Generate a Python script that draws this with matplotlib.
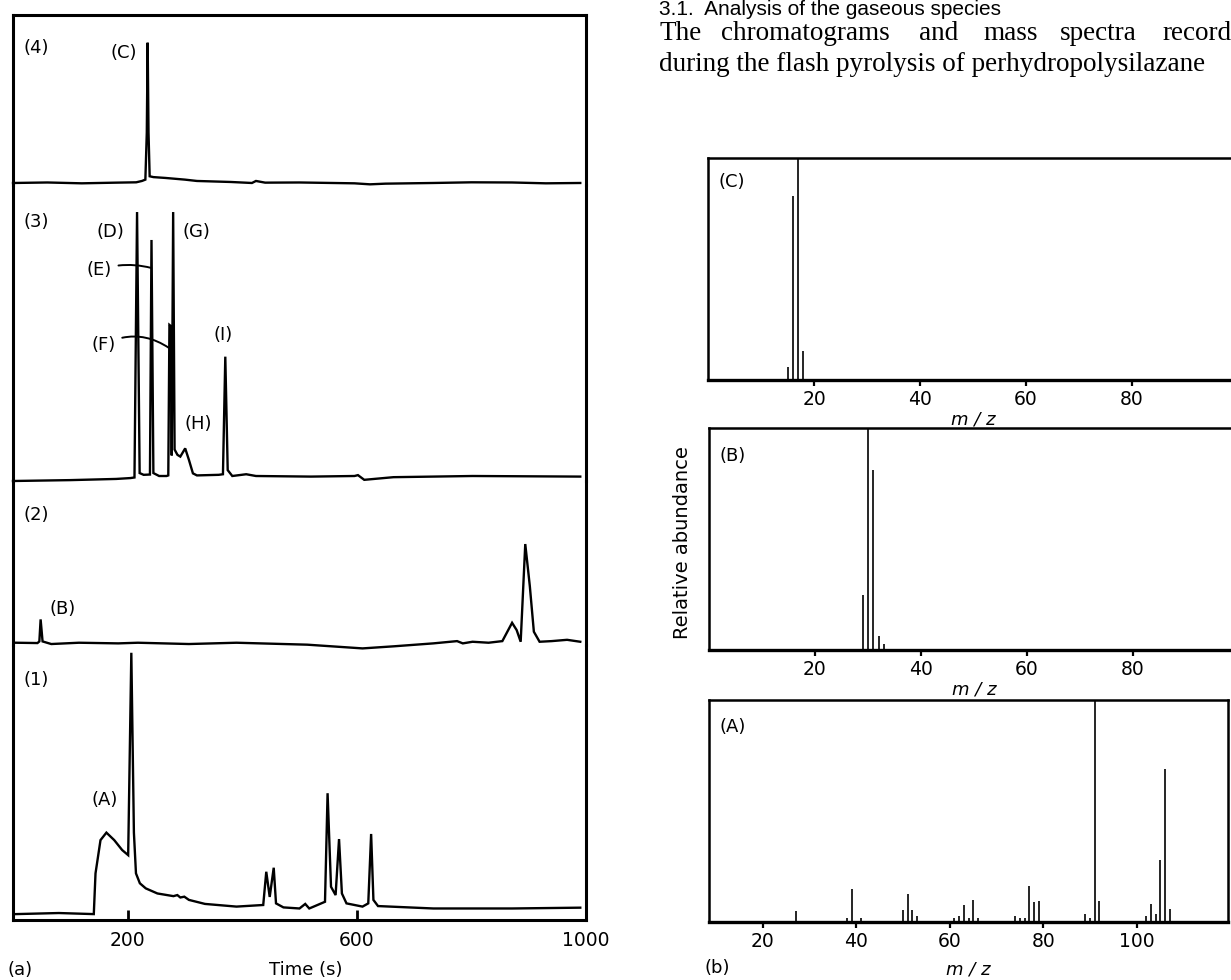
import matplotlib

matplotlib.use("Agg")
import matplotlib.pyplot as plt

W, H = 1231, 980

# ---- (a) chromatograms: time (s) and signal (fraction of panel height)
trace4_t = [0, 60, 120, 180, 215, 225, 231, 233.5, 235, 236.5, 238.5, 245, 266, 300, 321,
            380, 417, 424, 440, 500, 596, 623, 650, 733, 800, 871, 930, 990]
trace4_v = [0, 0.003, -0.002, 0.002, 0.004, 0.012, 0.02, 0.3, 0.835, 0.3, 0.04, 0.035, 0.03,
            0.02, 0.012, 0.006, 0.0, 0.012, 0.002, 0.003, -0.002, -0.008, -0.004, 0.0, 0.004,
            0.003, -0.002, 0.0]

trace3_t = [0, 100, 180, 205, 212, 216.5, 221, 228, 239, 241.7, 245, 255, 268, 271, 273,
            275.5, 277, 279.5, 282, 287, 292, 300.5, 307, 314, 321, 359, 366.4, 370.5, 374.7,
            382.7, 407, 424, 520, 596, 602, 613, 664, 802, 990]
trace3_v = [-0.007, -0.004, 0, 0.003, 0.005, 0.908, 0.02, 0.014, 0.015, 0.813, 0.02, 0.01,
            0.01, 0.012, 0.524, 0.52, 0.08, 0.908, 0.1, 0.082, 0.076, 0.104, 0.065, 0.019,
            0.012, 0.014, 0.016, 0.416, 0.03, 0.01, 0.016, 0.01, 0.008, 0.01, 0.013, -0.003,
            0.006, 0.01, 0.008]

trace2_t = [5, 42.7, 46, 48.2, 51.6, 66.8, 115, 183.6, 218, 307, 390, 513.5, 610, 665, 733.5,
            775, 785, 802, 830, 854, 871, 879, 886, 894, 902, 909, 919, 940, 967, 990]
trace2_v = [0.002, 0, 0.01, 0.146, 0.01, -0.006, 0.002, -0.002, 0.002, -0.006, 0.002, -0.01,
            -0.033, -0.02, -0.002, 0.012, -0.002, 0.008, 0.002, 0.012, 0.125, 0.08, 0.008,
            0.611, 0.35, 0.07, 0.008, 0.012, 0.02, 0.008]

trace1_t = [5, 80, 141, 144, 152.7, 163, 176.7, 190.5, 201, 206.5, 211, 214.6, 221.4, 231.7,
            252, 280, 286.8, 292, 299, 307, 335, 390, 436.7, 442, 448, 455, 459, 472, 500,
            510, 517, 527, 544.5, 549, 555, 563, 569, 574, 582, 610, 620, 625, 629, 637,
            733.5, 871, 990]
trace1_v = [-0.004, 0, -0.004, 0.148, 0.272, 0.3, 0.272, 0.235, 0.216, 0.971, 0.3, 0.148,
            0.111, 0.092, 0.073, 0.063, 0.067, 0.058, 0.061, 0.049, 0.034, 0.024, 0.03, 0.154,
            0.06, 0.169, 0.036, 0.021, 0.017, 0.034, 0.017, 0.026, 0.042, 0.447, 0.098, 0.067,
            0.276, 0.073, 0.036, 0.024, 0.036, 0.295, 0.049, 0.026, 0.017, 0.017, 0.02]

time_ticks = [200, 600, 1000]

# ---- (b) mass spectra: m/z and relative abundance
msC_mz = [15, 16, 17, 18]
msC_ab = [0.06, 0.83, 1.0, 0.13]

msB_mz = [29, 30, 31, 32, 33]
msB_ab = [0.25, 1.0, 0.81, 0.063, 0.026]

msA_mz = [27, 38, 39, 41, 50, 51, 52, 53, 61, 62, 63, 64, 65, 66, 74, 75, 76, 77, 78, 79,
          89, 90, 91, 92, 102, 103, 104, 105, 106, 107]
msA_ab = [0.05, 0.02, 0.15, 0.018, 0.053, 0.125, 0.053, 0.027, 0.017, 0.027, 0.075, 0.02,
          0.1, 0.017, 0.026, 0.018, 0.018, 0.16, 0.09, 0.095, 0.038, 0.02, 1.0, 0.093, 0.026,
          0.083, 0.035, 0.28, 0.69, 0.058]

mz_ticks_CB = [20, 40, 60, 80]
mz_ticks_A = [20, 40, 60, 80, 100]

FS = 13
plt.rcParams["font.family"] = "DejaVu Sans"

fig = plt.figure(figsize=(W / 100, H / 100), dpi=100)


def px_axes(x0, y0, x1, y1):
    return fig.add_axes([x0 / W, 1 - y1 / H, (x1 - x0) / W, (y1 - y0) / H])


def px_text(x, y, s, **kw):
    fig.text(x / W, 1 - y / H, s, **kw)


# ---- left block: four stacked chromatograms sharing one frame
chrom = [
    (trace4_t, trace4_v, 15, 185, -0.012, "(4)", 0.806),
    (trace3_t, trace3_v, 185, 481, -0.007, "(3)", 0.875),
    (trace2_t, trace2_v, 481, 645, -0.012, "(2)", 0.793),
    (trace1_t, trace1_v, 645, 920, -0.026, "(1)", 0.873),
]
axs = []
for i, (t, v, y0, y1, ymin, lab, ly) in enumerate(chrom):
    ax = px_axes(13, y0, 586, y1)
    ax.plot(t, v, color="black", lw=1.7, clip_on=False, solid_joinstyle="miter")
    ax.set_xlim(0, 1000)
    ax.set_ylim(ymin, 1.0)
    ax.set_yticks([])
    ax.patch.set_alpha(0)
    for side in ("left", "right", "top", "bottom"):
        ax.spines[side].set_linewidth(2.2)
    ax.spines["top"].set_visible(i == 0)
    ax.spines["bottom"].set_visible(i == len(chrom) - 1)
    if i < len(chrom) - 1:
        ax.set_xticks([])
    ax.text(0.04, ly, lab, transform=ax.transAxes, fontsize=FS, ha="center", va="center")
    axs.append(ax)

ax4, ax3, ax2, ax1 = axs
ax1.set_xticks(time_ticks)
ax1.set_xticklabels([str(v) for v in time_ticks])
ax1.tick_params(axis="x", direction="in", length=7, width=2, labelsize=FS + 0.5, pad=8)

ax4.text(193, 0.774, "(C)", fontsize=FS, ha="center", va="center")
ax3.text(170, 0.84, "(D)", fontsize=FS, ha="center", va="center")
ax3.text(321, 0.84, "(G)", fontsize=FS, ha="center", va="center")
ax3.text(367, 0.49, "(I)", fontsize=FS, ha="center", va="center")
ax3.text(323.5, 0.187, "(H)", fontsize=FS, ha="center", va="center")
ax3.annotate("(E)", xy=(241, 0.718), xytext=(150, 0.711), fontsize=FS, ha="center",
             va="center", arrowprops=dict(arrowstyle="-", lw=1.4, shrinkA=3, shrinkB=0,
                                          connectionstyle="arc3,rad=-0.15"))
ax3.annotate("(F)", xy=(272, 0.446), xytext=(157.6, 0.456), fontsize=FS, ha="center",
             va="center", arrowprops=dict(arrowstyle="-", lw=1.4, shrinkA=3, shrinkB=0,
                                          connectionstyle="arc3,rad=-0.3"))
ax2.text(87, 0.21, "(B)", fontsize=FS, ha="center", va="center")
ax1.text(160, 0.42, "(A)", fontsize=FS, ha="center", va="center")

px_text(20, 970, "(a)", fontsize=FS, ha="center", va="center")
px_text(306, 970, "Time (s)", fontsize=FS, ha="center", va="center")

# ---- right block: mass spectra
spectra = [
    (msC_mz, msC_ab, 708, 158, 1238, 380, (0, 100), mz_ticks_CB, "(C)", 0.89, 1),
    (msB_mz, msB_ab, 709, 428, 1239, 650, (0, 100), mz_ticks_CB, "(B)", 0.875, 1),
    (msA_mz, msA_ab, 709, 700, 1228, 922, (8.5, 119.5), mz_ticks_A, "(A)", 0.88, 7),
]
for mz, ab, x0, y0, x1, y1, xl, ticks, lab, ly, lpad in spectra:
    ax = px_axes(x0, y0, x1, y1)
    ax.vlines(mz, 0, ab, color="black", lw=1.2)
    ax.set_xlim(*xl)
    ax.set_ylim(0, 1.0)
    ax.set_yticks([])
    ax.set_xticks(ticks)
    ax.set_xticklabels([str(v) for v in ticks])
    ax.tick_params(axis="x", direction="out", length=4, width=1.6, labelsize=FS + 0.5, pad=3)
    for side in ("left", "right", "top"):
        ax.spines[side].set_linewidth(1.8)
    ax.spines["bottom"].set_linewidth(2.4)
    ax.set_xlabel("m / z", fontsize=FS, fontstyle="italic", labelpad=lpad)
    ax.text(0.02, ly, lab, transform=ax.transAxes, fontsize=FS, ha="left", va="center")

px_text(683, 543, "Relative abundance", fontsize=14, rotation=90, ha="center", va="center")
px_text(705, 968, "(b)", fontsize=FS, ha="left", va="center")

# ---- running text of the page above the spectra
px_text(659, 15, "3.1.  Analysis of the gaseous species", fontsize=15,
        family="Liberation Sans", ha="left", va="baseline")
serif = dict(fontsize=19.5, family="Liberation Serif", ha="left", va="baseline")
for word, x in [("The", 659), ("chromatograms", 721), ("and", 919), ("mass", 983),
                ("spectra", 1060), ("record", 1162)]:
    px_text(x, 40, word, **serif)
px_text(659, 71, "during the flash pyrolysis of perhydropolysilazane", **serif)

fig.savefig("out.png", dpi=100)
